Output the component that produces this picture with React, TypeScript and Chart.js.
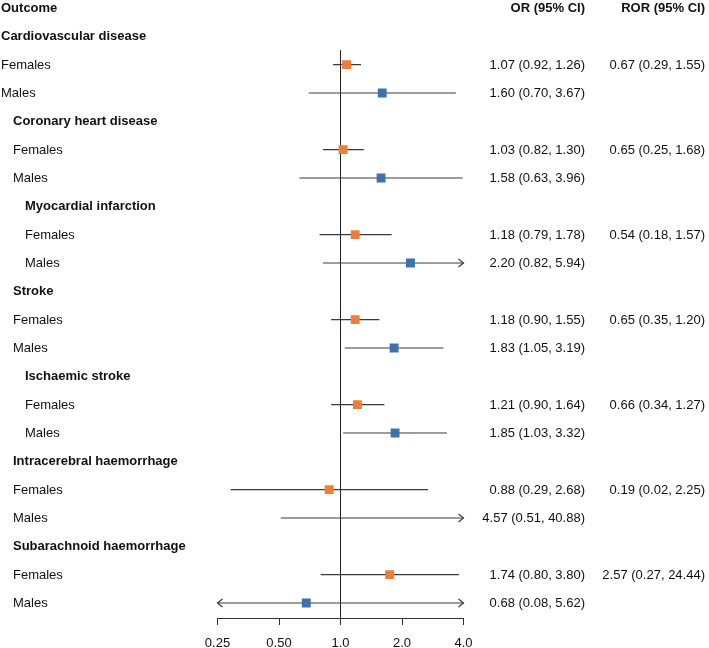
import { useEffect, useRef } from "react";
import { Chart, registerables } from "chart.js";

Chart.register(...registerables);

// Outcomes, nesting level (indentation) and estimates by sex
const outcomes = [
  "Cardiovascular disease",
  "Coronary heart disease",
  "Myocardial infarction",
  "Stroke",
  "Ischaemic stroke",
  "Intracerebral haemorrhage",
  "Subarachnoid haemorrhage",
];
const outcomeLevels = [0, 1, 2, 1, 2, 1, 1];

const femaleOR = [1.07, 1.03, 1.18, 1.18, 1.21, 0.88, 1.74];
const femaleLower = [0.92, 0.82, 0.79, 0.9, 0.9, 0.29, 0.8];
const femaleUpper = [1.26, 1.3, 1.78, 1.55, 1.64, 2.68, 3.8];

const maleOR = [1.6, 1.58, 2.2, 1.83, 1.85, 4.57, 0.68];
const maleLower = [0.7, 0.63, 0.82, 1.05, 1.03, 0.51, 0.08];
const maleUpper = [3.67, 3.96, 5.94, 3.19, 3.32, 40.88, 5.62];

const rorValue = [0.67, 0.65, 0.54, 0.65, 0.66, 0.19, 2.57];
const rorLower = [0.29, 0.25, 0.18, 0.35, 0.34, 0.02, 0.27];
const rorUpper = [1.55, 1.68, 1.57, 1.2, 1.27, 2.25, 24.44];

const axisTicks = [0.25, 0.5, 1, 2, 4];
const axisTickLabels = ["0.25", "0.50", "1.0", "2.0", "4.0"];

const W = 709;
const H = 648;
const FONT = '"Liberation Sans", Arial, Helvetica, sans-serif';
const FEMALE_COLOR = "#EF7D3A";
const MALE_COLOR = "#3E72AC";
const LINE_COLOR = "#3a3a3a";
const X_MIN = axisTicks[0];
const X_MAX = axisTicks[axisTicks.length - 1];
const Y_MAX = 21.53;

const fmt = (v: number, lo: number, hi: number) =>
  `${v.toFixed(2)} (${lo.toFixed(2)}, ${hi.toFixed(2)})`;

const outcomeRow = (i: number) => 1 + i * 3;
const femaleRow = (i: number) => 2 + i * 3;
const maleRow = (i: number) => 3 + i * 3;

export default function App() {
  const canvasRef = useRef<HTMLCanvasElement>(null);

  useEffect(() => {
    if (!canvasRef.current) return;

    const ciSets: any[] = [];
    const arrows: { row: number; lo: number; hi: number }[] = [];
    outcomes.forEach((_, i) => {
      [
        [femaleRow(i), femaleLower[i], femaleUpper[i]],
        [maleRow(i), maleLower[i], maleUpper[i]],
      ].forEach(([row, lo, hi]) => {
        ciSets.push({
          type: "scatter",
          showLine: true,
          data: [
            { x: lo, y: row },
            { x: hi, y: row },
          ],
          borderColor: LINE_COLOR,
          borderWidth: 1.2,
          pointRadius: 0,
          order: 2,
        });
        arrows.push({ row, lo, hi });
      });
    });

    const arrowPlugin = {
      id: "ciArrows",
      afterDatasetsDraw(chart: any) {
        const { ctx } = chart;
        const xs = chart.scales.x;
        const ys = chart.scales.y;
        ctx.save();
        ctx.strokeStyle = LINE_COLOR;
        ctx.lineWidth = 1.2;
        arrows.forEach(({ row, lo, hi }) => {
          const py = ys.getPixelForValue(row);
          if (hi > X_MAX) {
            const px = xs.getPixelForValue(X_MAX);
            ctx.beginPath();
            ctx.moveTo(px - 5, py - 4);
            ctx.lineTo(px, py);
            ctx.lineTo(px - 5, py + 4);
            ctx.stroke();
          }
          if (lo < X_MIN) {
            const px = xs.getPixelForValue(X_MIN);
            ctx.beginPath();
            ctx.moveTo(px + 5, py - 4);
            ctx.lineTo(px, py);
            ctx.lineTo(px + 5, py + 4);
            ctx.stroke();
          }
        });
        ctx.restore();
      },
    };

    const textPlugin = {
      id: "forestText",
      afterDraw(chart: any) {
        const { ctx } = chart;
        const ys = chart.scales.y;
        const orRight = 585;
        const rorRight = 705;
        const bold = `bold 13px ${FONT}`;
        const normal = `13px ${FONT}`;
        ctx.save();
        ctx.fillStyle = "#111";
        ctx.textBaseline = "middle";

        const put = (t: string, x: number, row: number, f: string, align: CanvasTextAlign) => {
          ctx.font = f;
          ctx.textAlign = align;
          ctx.fillText(t, x, ys.getPixelForValue(row) + 0.5);
        };

        put("Outcome", 1, 0, bold, "left");
        put("OR (95% CI)", orRight, 0, bold, "right");
        put("ROR (95% CI)", rorRight, 0, bold, "right");

        outcomes.forEach((name, i) => {
          const x = 1 + outcomeLevels[i] * 12;
          put(name, x, outcomeRow(i), bold, "left");
          put("Females", x, femaleRow(i), normal, "left");
          put("Males", x, maleRow(i), normal, "left");
          put(fmt(femaleOR[i], femaleLower[i], femaleUpper[i]), orRight, femaleRow(i), normal, "right");
          put(fmt(maleOR[i], maleLower[i], maleUpper[i]), orRight, maleRow(i), normal, "right");
          put(fmt(rorValue[i], rorLower[i], rorUpper[i]), rorRight, femaleRow(i), normal, "right");
        });
        ctx.restore();
      },
    };

    const chart = new Chart(canvasRef.current, {
      type: "scatter",
      data: {
        datasets: [
          {
            label: "Females",
            data: outcomes.map((_, i) => ({ x: femaleOR[i], y: femaleRow(i) })),
            backgroundColor: FEMALE_COLOR,
            borderColor: FEMALE_COLOR,
            pointStyle: "rect",
            pointRadius: 6.3,
            borderWidth: 0,
            order: 0,
          },
          {
            label: "Males",
            data: outcomes.map((_, i) => ({ x: maleOR[i], y: maleRow(i) })),
            backgroundColor: MALE_COLOR,
            borderColor: MALE_COLOR,
            pointStyle: "rect",
            pointRadius: 6.3,
            borderWidth: 0,
            order: 0,
          },
          ...ciSets,
          {
            label: "No effect",
            showLine: true,
            data: [
              { x: 1, y: 1.5 },
              { x: 1, y: Y_MAX },
            ],
            borderColor: "#222",
            borderWidth: 1,
            pointRadius: 0,
            order: 3,
          },
        ],
      },
      options: {
        animation: false,
        responsive: true,
        maintainAspectRatio: false,
        layout: { padding: { left: 217.5, right: W - 463.5, top: 8, bottom: 0 } },
        plugins: {
          legend: { display: false },
          tooltip: { enabled: false },
        },
        scales: {
          x: {
            type: "logarithmic",
            position: "bottom",
            min: X_MIN,
            max: X_MAX,
            afterBuildTicks: (scale: any) => {
              scale.ticks = axisTicks.map((v) => ({ value: v }));
            },
            afterFit: (scale: any) => {
              scale.height = 30;
            },
            ticks: {
              autoSkip: false,
              maxRotation: 0,
              padding: 11,
              color: "#111",
              font: { size: 13, family: FONT },
              callback: (_v: any, idx: number) => axisTickLabels[idx],
            },
            grid: {
              drawOnChartArea: false,
              drawTicks: true,
              tickLength: 7,
              color: "#333",
            },
            border: { display: true, color: "#333", width: 1 },
          },
          y: {
            type: "linear",
            reverse: true,
            min: 0,
            max: Y_MAX,
            display: false,
          },
        },
      },
      plugins: [arrowPlugin, textPlugin],
    } as any);

    return () => chart.destroy();
  }, []);

  return (
    <div style={{ position: "absolute", left: 0, top: 0, width: W, height: H }}>
      <canvas ref={canvasRef} />
    </div>
  );
}
